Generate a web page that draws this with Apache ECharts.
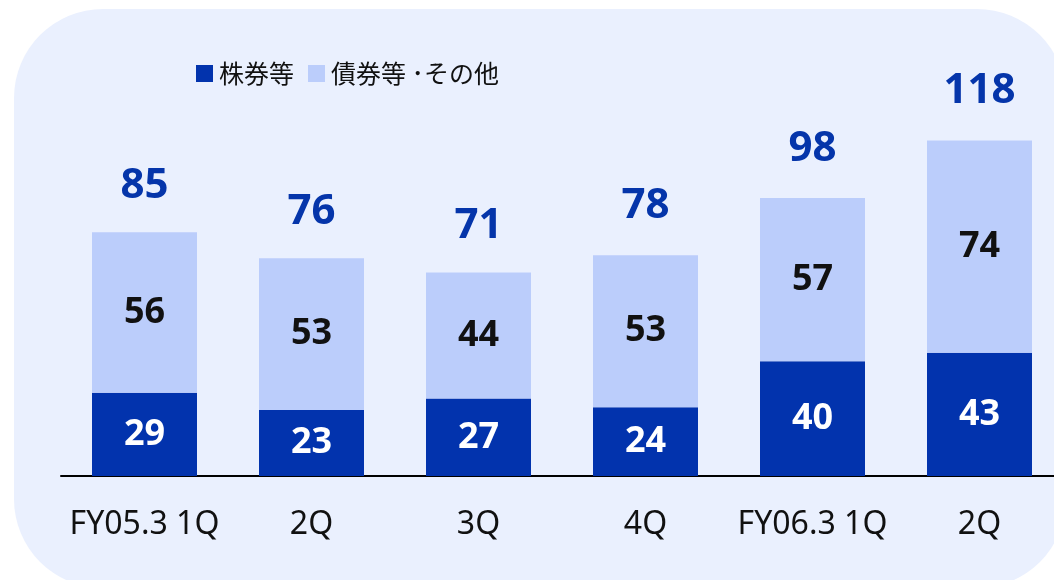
<!DOCTYPE html>
<html><head><meta charset="utf-8">
<script src="https://cdn.jsdelivr.net/npm/echarts@6/dist/echarts.min.js"></script>
<style>html,body{margin:0;padding:0;background:#fff;overflow:hidden;width:1054px;height:580px}#c{width:1080px;height:580px}</style>
</head><body><div id="c"></div>
<script>
const categories = ['FY05.3 1Q', '2Q', '3Q', '4Q', 'FY06.3 1Q', '2Q'];
const stocks = [29, 23, 27, 24, 40, 43];
const bonds = [56, 53, 44, 53, 57, 74];
const totals = [85, 76, 71, 78, 98, 118];
const seriesNames = ['株券等', '債券等 ･その他'];

const DARK = '#0233AD';
const LIGHT = '#BBCDFB';
const chart = echarts.init(document.getElementById('c'));
chart.setOption({
  animation: false,
  backgroundColor: '#ffffff',
  graphic: [{
    type: 'rect', z: -10, silent: true,
    shape: { x: 14, y: 9, width: 1052, height: 579, r: 89 },
    style: { fill: '#EAF0FE' }
  }],
  legend: {
    left: 191, top: 56, itemWidth: 17, itemHeight: 17, itemGap: 14,
    icon: 'rect', data: seriesNames,
    textStyle: { fontFamily: 'Noto Sans CJK JP', fontSize: 25, color: '#111', padding: [0, 0, 0, 1] }
  },
  grid: { left: 61, width: 1002, top: 46, height: 430 },
  xAxis: {
    type: 'category', data: categories,
    axisTick: { show: false },
    axisLine: { lineStyle: { color: '#000', width: 2 } },
    axisLabel: { fontFamily: 'Noto Sans', fontSize: 32, color: '#111', margin: 33, interval: 0 }
  },
  yAxis: { type: 'value', min: 0, max: 150, show: false, splitLine: { show: false } },
  series: [
    {
      name: seriesNames[0], type: 'bar', stack: 'a', data: stocks, barWidth: 105,
      itemStyle: { color: DARK },
      label: { show: true, position: 'inside', color: '#fff', fontFamily: 'Noto Sans', fontWeight: 'bold', fontSize: 36 }
    },
    {
      name: seriesNames[1], type: 'bar', stack: 'a', data: bonds, barWidth: 105,
      itemStyle: { color: LIGHT },
      label: { show: true, position: 'inside', color: '#111', fontFamily: 'Noto Sans', fontWeight: 'bold', fontSize: 36 }
    },
    {
      name: 'total', type: 'scatter', data: totals, symbolSize: 1, silent: true,
      itemStyle: { color: 'rgba(0,0,0,0)', opacity: 1 },
      label: { show: true, position: 'top', distance: 25, color: '#0535AA', opacity: 1, fontFamily: 'Noto Sans', fontWeight: 'bold', fontSize: 42 }
    }
  ]
});
</script></body></html>
